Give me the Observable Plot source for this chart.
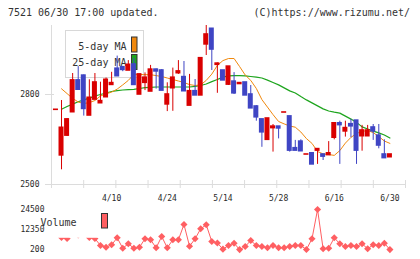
<!DOCTYPE html>
<html>
<head>
<meta charset="utf-8">
<script src="https://cdn.jsdelivr.net/npm/d3@7"></script>
<script src="https://cdn.jsdelivr.net/npm/@observablehq/plot@0.6"></script>
<style>
  body { margin: 0; background: #fff; }
  #wrap { position: relative; width: 420px; height: 259px; overflow: hidden;
          font-family: "DejaVu Sans Mono", monospace; color: #333; background: #fff; }
  .hdr { position: absolute; top: 6px; font-size: 10px; line-height: 14px; white-space: pre; }
  #price { position: absolute; left: 0; top: 20px; }
  #vol { position: absolute; left: 0; top: 205px; }
</style>
</head>
<body>
<div id="wrap">
  <div class="hdr" style="left:8px">7521 06/30 17:00 updated.</div>
  <div class="hdr" style="right:10px">(C)https://www.rizumu.net/</div>
  <div id="price"></div>
  <div id="vol"></div>
</div>
<script>
// Daily candles, one per trading session (index 0..60)
const opens  = [2749,2597,2663,2741,2847,2863,2730,2783,2771,2791, 2832,2886,2891,2880,2900,2800,2839,2810,2883,2880,
                2767,2821,2871,2858,2763,2811,2797,2967,3019,2899, 2880,2833,2843,2835,2840,2800,2760,2717,2649,2688,
                2693,2740,2727,2621,2643,2600,2604,2613,2600,2598, 2656,2704,2677,2701,2713,2661,2661,2690,2663,2600,
                2591];
const highs  = [2749,2780,2720,2870,2893,2865,2849,2870,2841,2855, 2874,2928,2893,2913,2920,2867,2872,2897,2885,2883,
                2839,2888,2913,2910,2867,2850,2921,3030,3020,2905, 2880,2893,2873,2838,2840,2830,2763,2717,2720,2700,
                2693,2740,2727,2647,2649,2600,2604,2620,2600,2643, 2704,2711,2711,2717,2713,2697,2697,2700,2700,2649,
                2600];
const lows   = [2749,2549,2660,2741,2816,2728,2730,2783,2771,2791, 2832,2861,2876,2880,2832,2800,2813,2810,2818,2813,
                2743,2744,2867,2811,2763,2797,2797,2930,2880,2804, 2847,2830,2800,2835,2797,2754,2711,2624,2649,2608,
                2652,2740,2608,2613,2611,2600,2567,2567,2580,2598, 2649,2567,2658,2656,2567,2611,2661,2647,2619,2588,
                2591];
const closes = [2749,2689,2717,2847,2816,2752,2789,2840,2778,2849, 2838,2861,2882,2899,2832,2867,2856,2883,2877,2813,
                2800,2856,2877,2811,2811,2797,2921,3000,2950,2903, 2847,2893,2804,2838,2797,2754,2724,2674,2720,2693,
                2687,2740,2613,2613,2611,2600,2567,2618,2593,2604, 2704,2698,2688,2694,2613,2680,2680,2677,2630,2588,
                2600];

// Moving averages
const ma5  = [null,2819,2803,2787,2775,2770,2773,2780,2795,2802, 2808,2818,2832,2847,2867,2867,2866,2866,2863,2860,
              2855,2850,2845,2840,2833,2830,2832,2847,2868,2897, 2913,2920,2920,2893,2865,2847,2820,2783,2758,2733,
              2710,2702,2695,2691,2675,2653,2637,2610,2602,2600, 2597,2613,2638,2657,2670,2677,2680,2673,2660,2645,
              2637];
const ma25 = [null,2751,2760,2768,2776,2782,2788,2795,2800,2805, 2810,2813,2815,2816,2817,2820,2823,2824,2825,2825,
              2825,2825,2825,2825,2825,2827,2830,2835,2843,2850, 2858,2862,2863,2863,2862,2860,2858,2855,2848,2840,
              2832,2822,2812,2805,2793,2782,2772,2762,2752,2745, 2741,2738,2728,2718,2707,2692,2685,2678,2672,2665,
              2655];

// Daily volume
const volumes = [null,7500,6900,11000,9000,10000,7500,6900,2630,1600, 3055,7300,990,3660,990,1600,6700,6090,1230,8100,
                 1230,6090,6090,15390,2200,6700,12775,15200,5060,4140, 400,2630,4030,150,2020,5670,2630,2020,1230,2630,
                 1230,1230,2020,2630,2630,200,6700,24500,630,990, 7300,3660,2020,2630,2020,3660,630,3050,2630,4030,
                 150];

// Axis labels
const dateTickIndex = [10, 20, 30, 40, 50, 60];
const dateTickLabels = ["4/10", "4/24", "5/14", "5/28", "6/16", "6/30"];
const priceTicks = [2500, 2800];
const volumeTicks = [200, 12350, 24500];

const RED = "#d90000", BLUE = "#3f45c4", ORANGE = "#f0890e", GREEN = "#1ea51e", VOL = "#ff5f62";
const GRID = "#dcdcdc", TEXT = "#2a2a2a";
const MONO = "DejaVu Sans Mono, monospace";

const candles = opens.map((o, i) => ({i, open: o, high: highs[i], low: lows[i], close: closes[i]}));
const ups = candles.filter(d => d.close >= d.open);
const downs = candles.filter(d => d.close < d.open);
const ma5Rows = ma5.map((v, i) => ({i, v})).filter(d => d.v != null);
const ma25Rows = ma25.map((v, i) => ({i, v})).filter(d => d.v != null);
const volRows = volumes.map((v, i) => ({i, v})).filter(d => d.v != null);

const xDomain = [-0.8, 62.8];
const pxPerIdx = (420 - 51 - 15) / (xDomain[1] - xDomain[0]);
const pxPerYen = (185 - 5 - 21) / (3030 - 2500);
const gridTicks = d3.range(12).map(k => xDomain[0] + k * (xDomain[1] - xDomain[0]) / 11);

const body = (data, color) => Plot.rect(data, {
  x1: d => d.i - 0.45, x2: d => d.i + 0.45,
  y1: "open", y2: "close", fill: color, insetTop: -0.8, insetBottom: -0.8
});
const wick = (data, color) => Plot.ruleX(data, {x: "i", y1: "low", y2: "high", stroke: color, strokeWidth: 1});

const price = Plot.plot({
  width: 420, height: 185,
  marginTop: 5, marginBottom: 21, marginLeft: 51, marginRight: 15,
  style: {fontFamily: MONO, fontSize: "8px", color: TEXT, background: "transparent"},
  x: {domain: xDomain, axis: null},
  y: {domain: [2500, 3030], axis: null},
  marks: [
    // frame lines and ticks
    Plot.ruleX([xDomain[0]], {y1: 2500 - 4 / pxPerYen, y2: 3030, stroke: GRID}),
    Plot.ruleY([2500], {x1: xDomain[0] - 6 / pxPerIdx, x2: xDomain[1], stroke: GRID}),
    Plot.ruleX(gridTicks, {y1: 2500 - 4 / pxPerYen, y2: 2500 + 4 / pxPerYen, stroke: GRID}),
    Plot.ruleY([2800], {x1: xDomain[0] - 6 / pxPerIdx, x2: xDomain[0] + 3 / pxPerIdx, stroke: GRID}),
    Plot.text(priceTicks, {y: d => d, text: d => String(d), frameAnchor: "left", dx: -12,
                           textAnchor: "end", fill: TEXT, fontSize: 8}),
    Plot.text(dateTickIndex, {x: d => d, text: (d, k) => dateTickLabels[k], frameAnchor: "bottom",
                              dy: 14, lineAnchor: "middle", fill: TEXT, fontSize: 8}),
    // moving averages
    Plot.line(ma25Rows, {x: "i", y: "v", stroke: GREEN, strokeWidth: 1.2}),
    Plot.line(ma5Rows, {x: "i", y: "v", stroke: ORANGE, strokeWidth: 1}),
    // candles
    wick(ups, RED), wick(downs, BLUE),
    body(ups, RED), body(downs, BLUE)
  ]
});

// legend box for the moving averages, drawn beneath the candles
const legP = d3.select(price).insert("g", ":first-child")
  .attr("font-family", MONO).attr("font-size", 10).attr("fill", "#333");
legP.append("rect").attr("x", 65.5).attr("y", 10.5).attr("width", 78).attr("height", 47)
  .attr("fill", "#fff").attr("stroke", "#d8d8d8");
legP.append("text").attr("x", 126.5).attr("y", 26).attr("dy", "0.35em").attr("text-anchor", "end").text("5-day MA");
legP.append("text").attr("x", 126.5).attr("y", 42.7).attr("dy", "0.35em").attr("text-anchor", "end").text("25-day MA");
legP.append("rect").attr("x", 131.5).attr("y", 17).attr("width", 5.5).attr("height", 15)
  .attr("fill", ORANGE).attr("stroke", "#333");
legP.append("rect").attr("x", 131.5).attr("y", 34.5).attr("width", 5.5).attr("height", 15)
  .attr("fill", GREEN).attr("stroke", "#333");

document.getElementById("price").append(price);

const vol = Plot.plot({
  width: 420, height: 54,
  marginTop: 4, marginBottom: 10, marginLeft: 51, marginRight: 15,
  style: {fontFamily: MONO, fontSize: "8px", color: TEXT, background: "transparent", overflow: "visible"},
  x: {domain: xDomain, axis: null},
  y: {domain: [200, 24500], axis: null},
  marks: [
    Plot.text(volumeTicks, {y: d => d, text: d => String(d), frameAnchor: "left", dx: -7,
                            textAnchor: "end", fill: TEXT, fontSize: 8}),
    Plot.line(volRows, {x: "i", y: "v", stroke: VOL, strokeWidth: 1}),
    Plot.dot(volRows, {x: "i", y: "v", symbol: "diamond2", r: 3.2, fill: VOL})
  ]
});

// volume legend sits on top of the series
const legV = d3.select(vol).append("g").attr("font-family", MONO).attr("font-size", 10).attr("fill", "#333");
legV.append("rect").attr("x", 56).attr("y", 0).attr("width", 54).attr("height", 32.8).attr("fill", "#fff");
legV.append("text").attr("x", 58.5).attr("y", 17.3).attr("dy", "0.35em").text("Volume");
legV.append("rect").attr("x", 101.5).attr("y", 8.5).attr("width", 6).attr("height", 14.5)
  .attr("fill", VOL).attr("stroke", "#333");

document.getElementById("vol").append(vol);
</script>
</body>
</html>
